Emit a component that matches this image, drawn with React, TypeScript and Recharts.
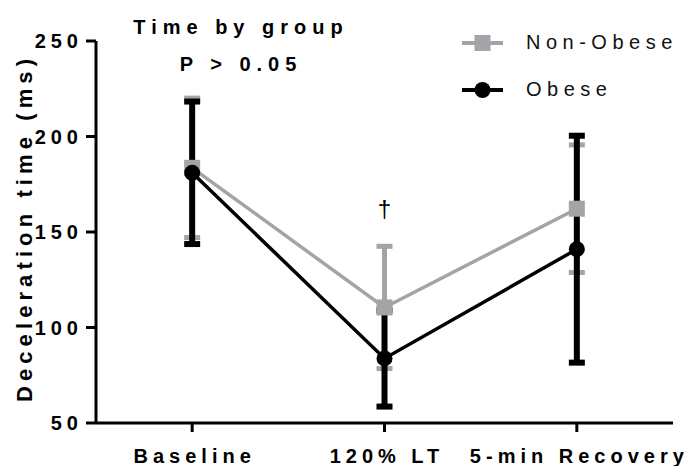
import { ErrorBar, Line, LineChart, ReferenceDot, XAxis, YAxis } from "recharts";

const FONT = '"Liberation Sans", Arial, sans-serif';
const GREY = "#a4a4a8";
const BLACK = "#000000";

const categories = ["Baseline", "120% LT", "5-min Recovery"];
const nonObeseMean = [183.6, 110.5, 162.2];
const nonObeseErr = [36.5, 32, 33.4];
const obeseMean = [181, 83.8, 141];
const obeseErr = [37.3, 25.2, 59.4];
const yTicks = [50, 100, 150, 200, 250];
const annotations = [{ category: "120% LT", value: 158, text: "†" }];

const data = categories.map((c, i) => ({
  group: c,
  nonObese: nonObeseMean[i],
  nonObeseErr: nonObeseErr[i],
  obese: obeseMean[i],
  obeseErr: obeseErr[i],
}));

const SquareDot = (props: any) => {
  const { cx, cy } = props;
  if (cx == null || cy == null) return null;
  return <rect x={cx - 8} y={cy - 8} width={16} height={16} fill={GREY} />;
};

const CircleDot = (props: any) => {
  const { cx, cy } = props;
  if (cx == null || cy == null) return null;
  return <circle cx={cx} cy={cy} r={8} fill={BLACK} />;
};

const YTick = ({ x, y, payload }: any) => (
  <text x={x - 1} y={y} dy="0.36em" textAnchor="end" fontFamily={FONT} fontSize={20} fontWeight="bold" letterSpacing={5} fill="#000">
    {payload.value}
  </text>
);

const XTick = ({ x, y, payload }: any) => (
  <text x={x + 2.5} y={y + 29} textAnchor="middle" fontFamily={FONT} fontSize={20} fontWeight="bold" letterSpacing={5} fill="#000">
    {payload.value}
  </text>
);

const YLabel = () => (
  <text x={32} y={228} transform="rotate(-90 32 228)" textAnchor="middle" fontFamily={FONT} fontSize={22} fontWeight="bold" letterSpacing={5.1} fill="#000">
    Deceleration time (ms)
  </text>
);

const legendItems = [
  { name: "Non-Obese", color: GREY, shape: "square" },
  { name: "Obese", color: BLACK, shape: "circle" },
];

const ChartLegend = () => (
  <div style={{ position: "absolute", top: 19, left: 462, fontFamily: FONT, fontSize: 20, letterSpacing: 5.5, color: "#111" }}>
    {legendItems.map((item) => (
      <div key={item.name} style={{ display: "flex", alignItems: "center", height: 47 }}>
        <svg width={41} height={20}>
          <line x1={0} y1={10} x2={41} y2={10} stroke={item.color} strokeWidth={4} />
          {item.shape === "square" ? (
            <rect x={12.5} y={2} width={16} height={16} fill={item.color} />
          ) : (
            <circle cx={20.5} cy={10} r={8} fill={item.color} />
          )}
        </svg>
        <span style={{ marginLeft: 23 }}>{item.name}</span>
      </div>
    ))}
  </div>
);

export default function App() {
  return (
    <div style={{ position: "absolute", left: 0, top: 0, width: 685, height: 466, background: "#fff" }}>
      <LineChart width={685} height={466} data={data} margin={{ top: 41, right: 12, left: 0, bottom: 0 }}>
        <XAxis
          dataKey="group"
          scale="band"
          height={43}
          axisLine={{ stroke: "#000", strokeWidth: 3 }}
          tickLine={{ stroke: "#000", strokeWidth: 3 }}
          tickSize={9}
          tick={<XTick />}
          interval={0}
        />
        <YAxis
          domain={[50, 250]}
          ticks={yTicks}
          width={96}
          axisLine={{ stroke: "#000", strokeWidth: 3 }}
          tickLine={{ stroke: "#000", strokeWidth: 3 }}
          tickSize={10}
          tick={<YTick />}
          label={<YLabel />}
          allowDataOverflow
        />
        <Line
          dataKey="nonObese"
          name="Non-Obese"
          stroke={GREY}
          strokeWidth={3.5}
          dot={<SquareDot />}
          activeDot={false}
          isAnimationActive={false}
        >
          <ErrorBar dataKey="nonObeseErr" direction="y" width={8} stroke={GREY} strokeWidth={5} isAnimationActive={false} />
        </Line>
        <Line
          dataKey="obese"
          name="Obese"
          stroke={BLACK}
          strokeWidth={3.5}
          dot={<CircleDot />}
          activeDot={false}
          isAnimationActive={false}
        >
          <ErrorBar dataKey="obeseErr" direction="y" width={8} stroke={BLACK} strokeWidth={6} isAnimationActive={false} />
        </Line>
        {annotations.map((a) => (
          <ReferenceDot
            key={a.category}
            x={a.category}
            y={a.value}
            r={0}
            shape={(p: any) => (
              <text x={p.cx} y={p.cy} textAnchor="middle" fontFamily={FONT} fontSize={24} fill="#000">
                {a.text}
              </text>
            )}
          />
        ))}
      </LineChart>
      <ChartLegend />
      <svg width={685} height={90} style={{ position: "absolute", left: 0, top: 0, pointerEvents: "none" }}>
        <text x={241} y={34} textAnchor="middle" fontFamily={FONT} fontSize={20} fontWeight="bold" letterSpacing={6}>
          Time by group
        </text>
        <text x={241} y={71} textAnchor="middle" fontFamily={FONT} fontSize={20} fontWeight="bold" letterSpacing={6}>
          P &gt; 0.05
        </text>
      </svg>
    </div>
  );
}
